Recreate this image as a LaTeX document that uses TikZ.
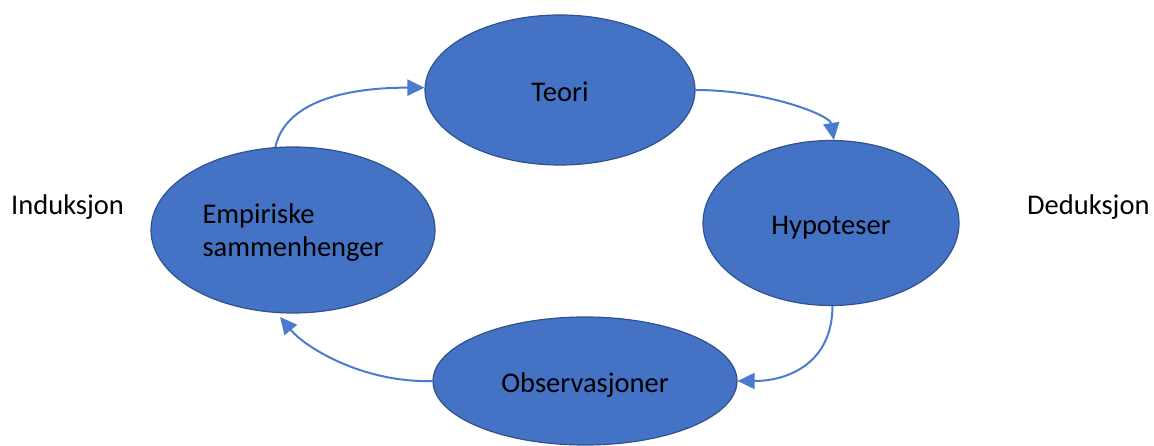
\documentclass[tikz,border=0pt]{standalone}
\usepackage{fontspec}
\setmainfont{Carlito}
\usetikzlibrary{shapes.geometric,arrows.meta}
\definecolor{fillblue}{HTML}{4472C4}
\definecolor{edgeblue}{HTML}{2F528F}
\definecolor{arrowblue}{HTML}{4A7BCE}
\begin{document}
\begin{tikzpicture}[x=1pt,y=-1pt,
  bubble/.style={ellipse, draw=edgeblue, line width=1.2pt, fill=fillblue, inner sep=0pt,
    font=\fontsize{28.5}{33}\selectfont, text=black},
  oneline/.style={text height=23pt, text depth=0pt},
  flow/.style={draw=arrowblue, line width=2pt, -{Triangle[length=17pt,width=16pt]}},
  side/.style={font=\fontsize{28.5}{34}\selectfont, anchor=base west, inner sep=0pt}]
\useasboundingbox (0,0) rectangle (1154,446);
\node[bubble, oneline, minimum width=270pt, minimum height=150pt] (teori) at (560,90) {Teori};
\node[bubble, align=left, text depth=-4pt, minimum width=284pt, minimum height=166pt] (emp) at (293,230) {Empiriske\\sammenhenger};
\node[bubble, oneline, minimum width=256pt, minimum height=165pt] (hyp) at (831,223) {Hypoteser};
\node[bubble, oneline, minimum width=304pt, minimum height=128pt] (obs) at (585,381) {Observasjoner};
\node[side] (ind) at (11,214.5) {Induksjon};
\node[side] (ded) at (1027,214.5) {Deduksjon};
\draw[flow] (emp.102) .. controls +(10,-45) and +(-80,0) .. (teori.179);
\draw[flow] (teori.east) .. controls +(70,0) and +(-4,-25) .. (hyp.88);
\draw[flow] (hyp.271) .. controls +(0,55) and +(53,0) .. (obs.east);
\draw[flow, shorten >=5pt] (obs.west) .. controls +(-70,2) and +(28,34) .. (emp.259);
\end{tikzpicture}
\end{document}
